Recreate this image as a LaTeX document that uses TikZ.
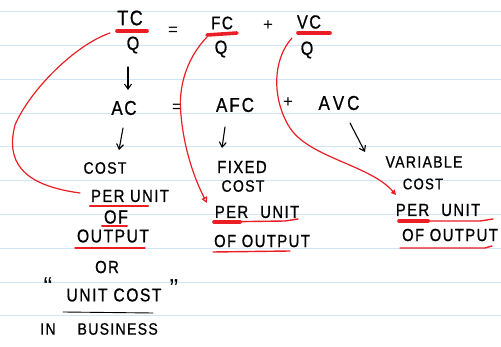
\documentclass[tikz,border=0pt]{standalone}
\usepackage{fontspec}
\setmainfont{Liberation Sans}
\newfontfamily\hand[LetterSpace=8, FakeStretch=0.85, FakeBold=0.8]{Liberation Sans}
\usetikzlibrary{arrows.meta}
\definecolor{ruling}{RGB}{208,228,244}
\definecolor{marker}{RGB}{234,30,36}
\tikzset{
  txt/.style={inner sep=0pt, font=\hand\fontsize{#1}{#1}\selectfont},
  txt/.default=18,
  sym/.style={inner sep=0pt, font=\fontsize{#1}{#1}\selectfont},
  pen/.style={black, line width=1.1pt, line cap=round, line join=round},
  arr/.style={pen, -{Straight Barb[length=5pt,width=7pt]}},
  redpen/.style={marker, line width=1.2pt, line cap=round},
  hl/.style={marker, line width=3.6pt, line cap=round},
  ul/.style={marker, line width=1.4pt, line cap=round},
}
\begin{document}
\begin{tikzpicture}[x=1pt,y=-1pt]
  \useasboundingbox (0,0) rectangle (501,347);
  \fill[white] (0,0) rectangle (501,347);
  % ruled notebook lines
  \foreach \k in {0,...,9}
    \draw[ruling, line width=1.1pt] (0,{11.7+33.8*\k}) -- (501,{11.7+33.8*\k});

  % top row: TC/Q = FC/Q + VC/Q
  \node[txt=21] (tc) at (130,18) {TC};
  \node[txt=19] (q1) at (133,45) {Q};
  \node[sym=17] (eq1) at (173,31) {=};
  \node[txt=18] (fc) at (222,23) {FC};
  \node[txt=19] (q2) at (221,49) {Q};
  \node[sym=17] (plus1) at (268,26) {+};
  \node[txt=19] (vc) at (309,22) {VC};
  \node[txt=19] (q3) at (307,50) {Q};

  % second row: AC = AFC + AVC
  \node[txt=20] (ac) at (124,108) {AC};
  \node[sym=17] (eq2) at (177,108) {=};
  \node[txt=20] (afc) at (235,105) {A\hspace{2pt}F\hspace{2pt}C};
  \node[sym=17] (plus2) at (288,103) {+};
  \node[txt=20] (avc) at (339,103) {A\hspace{3pt}V\hspace{3pt}C};

  % left column
  \node[txt=16.5] (cost1) at (105,168) {COST};
  \node[txt=17.5] (per1) at (130,196) {PER UNIT};
  \node[txt=19] (of1) at (116,217) {OF};
  \node[txt=18.5] (out1) at (113,236) {OUTPUT};
  \node[txt=17.5] (or) at (107,267) {OR};
  \node[sym=26] (lq) at (48,287) {“};
  \node[txt=18.5] (uc) at (114,295) {UNIT COST};
  \node[sym=26] (rq) at (174,289) {”};
  \node[txt=16.5] (inb) at (99,329) {IN\hspace{22pt}BUSINESS};

  % middle column
  \node[txt=17.5] (fixed) at (242,167) {FIXED};
  \node[txt=16.5] (cost2) at (243,186) {COST};
  \node[txt=17.5] (per2) at (257,212) {PER\hspace{12pt}UNIT};
  \node[txt=17.5] (out2) at (262,241) {OF OUTPUT};

  % right column
  \node[txt=16.5] (var) at (424,162) {VARIABLE};
  \node[txt=15.5] (cost3) at (423,184) {COST};
  \node[txt=17.5] (per3) at (438,210) {PER\hspace{12pt}UNIT};
  \node[txt=17.5] (out3) at (450,235) {OF OUTPUT};

  % black arrows
  \coordinate (a1s) at (128,67);  \coordinate (a1e) at (128,90);
  \coordinate (a2s) at (123,128); \coordinate (a2e) at (119,150);
  \coordinate (a3s) at (225,127); \coordinate (a3e) at (222,148);
  \coordinate (a4s) at (350,123); \coordinate (a4e) at (365,152);
  \draw[arr] (a1s) -- (a1e);
  \draw[arr] (a2s) -- (a2e);
  \draw[arr] (a3s) -- (a3e);
  \draw[arr] (a4s) -- (a4e);

  % marker highlights under the numerators
  \draw[hl] (117,31) -- (147,31);
  \draw[hl] (207,35) -- (237,33);
  \draw[hl] (298,33) -- (330,33);

  % underlines, left column
  \draw[marker, line width=2.4pt, line cap=round] (90,206) -- (148,206);
  \draw[marker, line width=2pt, line cap=round] (102,226) -- (127,226);
  \draw[ul] (75,248) -- (145,248);
  \draw[pen, line width=0.9pt] (63,312) -- (153,313);

  % underlines, middle column
  \draw[hl] (214,222) -- (240,222);
  \draw[ul] (214,222) -- (285,221) -- (298,219);
  \draw[ul] (213,252) -- (290,251);

  % underlines, right column
  \draw[hl] (399,221) -- (428,221);
  \draw[ul] (399,221) -- (480,221) -- (493,219);
  \draw[ul] (400,248) -- (485,248) -- (492,246);

  % red links from each numerator to its "per unit" reading
  \coordinate (c1s) at (110,33);  \coordinate (c1e) at (80,193);
  \coordinate (c2s) at (207,37);  \coordinate (c2e) at (207,203);
  \coordinate (c3s) at (292,38);  \coordinate (c3e) at (396,195);
  \draw[redpen] (c1s) .. controls (75,45) and (30,90) .. (15,125)
                      .. controls (6,160) and (20,185) .. (c1e);
  \draw[redpen, -{Triangle[open,length=6pt,width=6pt]}]
        (c2s) .. controls (185,60) and (178,90) .. (181,115)
              .. controls (184,150) and (195,180) .. (c2e);
  \draw[redpen, -{Triangle[length=5pt,width=5pt]}]
        (c3s) .. controls (272,60) and (272,100) .. (290,128)
              .. controls (310,158) and (370,165) .. (c3e);
\end{tikzpicture}
\end{document}
